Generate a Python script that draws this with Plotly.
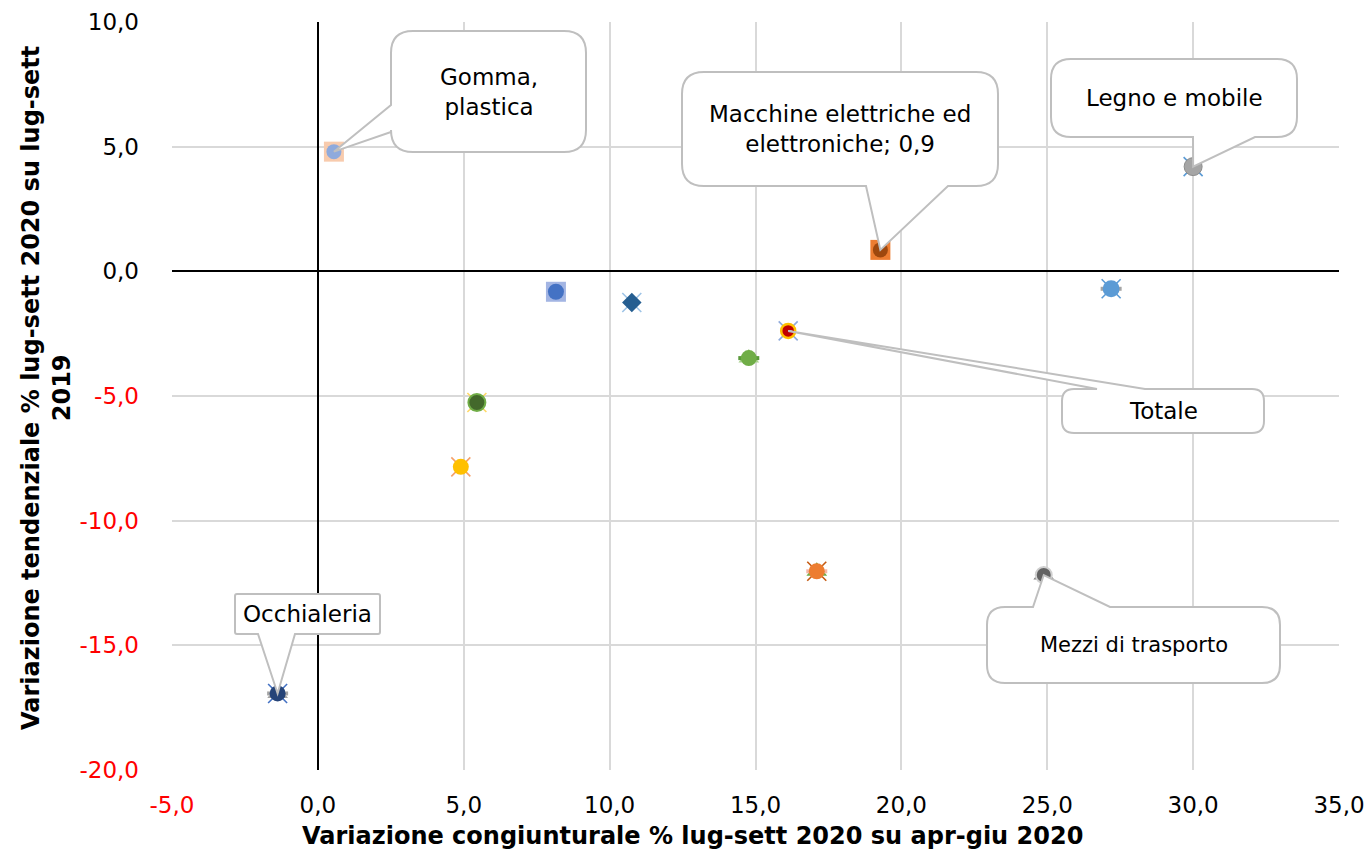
import plotly.graph_objects as go

# ---------------- data ----------------
categories = ["Gomma, plastica", "Settore B", "Settore C", "Settore D", "Settore E",
              "Settore F", "Totale", "Macchine elettriche ed elettroniche", "Settore I",
              "Legno e mobile", "Settore K", "Mezzi di trasporto", "Occhialeria"]
x_vals = [0.55, 8.16, 10.76, 5.45, 4.90, 14.77, 16.12, 19.28, 27.19, 30.0, 17.10, 24.88, -1.38]
y_vals = [4.80, -0.82, -1.25, -5.26, -7.84, -3.48, -2.39, 0.86, -0.70, 4.20, -12.03, -12.18, -16.93]

x_ticks = [-5, 0, 5, 10, 15, 20, 25, 30, 35]
x_tick_labels = ["-5,0", "0,0", "5,0", "10,0", "15,0", "20,0", "25,0", "30,0", "35,0"]
y_ticks = [-20, -15, -10, -5, 0, 5, 10]
y_tick_labels = ["-20,0", "-15,0", "-10,0", "-5,0", "0,0", "5,0", "10,0"]

x_title = "Variazione congiunturale % lug-sett 2020 su apr-giu 2020"
y_title = "Variazione tendenziale % lug-sett 2020 su lug-sett<br>2019"

# callouts: (index of point, text, font size)
callouts = [
    (0, "Gomma,<br>plastica", 23),
    (7, "Macchine elettriche ed<br>elettroniche; 0,9", 23),
    (9, "Legno e mobile", 23),
    (6, "Totale", 23),
    (11, "Mezzi di trasporto", 21),
    (12, "Occhialeria", 23),
]

# ---------------- styles ----------------
W, H = 1367, 853
PL, PR, PT, PB = 172, 1339, 22, 770
XMIN, XMAX, YMIN, YMAX = -5, 35, -20, 10
FONT = "DejaVu Sans"

def to_px(xd, yd):
    return (PL + (xd - XMIN) * (PR - PL) / (XMAX - XMIN),
            PT + (YMAX - yd) * (PB - PT) / (YMAX - YMIN))

def to_data(px, py):
    return (XMIN + (px - PL) * (XMAX - XMIN) / (PR - PL),
            YMAX - (py - PT) * (YMAX - YMIN) / (PB - PT))

# marker layers (bottom to top); None = not present for that point
sq_col = ["#f8cbad", "#a3b5e3", None, None, None, None, None, "#ed7d31", None, None, "#f8cbad", None, None]
sq_size = [20, 20, 0, 0, 0, 0, 0, 20, 0, 0, 12, 0, 0]
x_col = [None, None, "#9dc3e6", "#ffd966", "#f4a06a", None, "#8faadc", None, "#5b9bd5", "#5b9bd5", "#c55a11", None, "#4472c4"]
tri_col = [None, None, None, None, None, "#a9d18e", None, None, None, None, "#70ad47", "#7f7f7f", "#a5a5a5"]
bar_col = [None, None, None, None, None, "#5a9a3a", None, None, "#a5a5a5", None, "#f4b6a6", None, "#a5a5a5"]
top_sym = ["circle", "circle", "diamond", "circle", "circle", "circle", "circle", "circle", "circle", "circle", "circle", "circle", "circle"]
top_col = ["#8faadc", "#4472c4", "#255e91", "#43682b", "#ffc000", "#70ad47", "#c00000", "#9e480e", "#5b9bd5", "#a5a5a5", "#ed7d31", "#636363", "#264478"]
top_size = [15, 16, 15, 17, 16, 16, 14, 15, 17, 18, 16, 16, 16]
top_line = ["#8faadc", "#4472c4", "#255e91", "#70ad47", "#ffc000", "#70ad47", "#ffc000", "#9e480e", "#5b9bd5", "#8c8c8c", "#ed7d31", "#d0d0d0", "#264478"]
top_lw = [0, 0, 0, 2, 0, 0, 2.5, 0, 0, 1, 0, 2, 0]

fig = go.Figure()

def add_layer(cols, symbol, sizes, lw):
    idx = [i for i, c in enumerate(cols) if c is not None]
    if not idx:
        return
    fig.add_trace(go.Scatter(
        x=[x_vals[i] for i in idx], y=[y_vals[i] for i in idx],
        mode="markers", hoverinfo="skip", showlegend=False,
        marker=dict(symbol=symbol, color=[cols[i] for i in idx], opacity=1,
                    size=[sizes[i] if isinstance(sizes, list) else sizes for i in idx],
                    line=dict(width=lw, color=[cols[i] for i in idx]))))

add_layer(sq_col, "square", sq_size, 0)
add_layer(x_col, "x-thin-open", 19, 1.6)
add_layer(tri_col, "triangle-up", 18, 0)
add_layer(bar_col, "line-ew-open", 15, 4)

fig.add_trace(go.Scatter(
    x=x_vals, y=y_vals, mode="markers", text=categories,
    hovertemplate="%{text}<br>%{x:.1f}; %{y:.1f}<extra></extra>", showlegend=False,
    marker=dict(symbol=top_sym, color=top_col, size=top_size, opacity=1,
                line=dict(width=top_lw, color=top_line))))

# ---------------- callout bubbles ----------------
# geometry in pixels: box (L, T, R, B), corner radius, side of tail, tail base (b1, b2)
bubble_geom = {
    0: (391, 31, 586, 152, 22, "left", 105, 132),
    7: (682, 72, 998, 186, 22, "bottom", 866, 948),
    9: (1051, 59, 1297, 137, 20, "bottom", 1193, 1255),
    6: (1062, 389, 1264, 433, 12, "top", 1097, 1145),
    11: (987, 607, 1280, 683, 18, "top", 1033, 1110),
    12: (235, 594, 380, 634, 2, "bottom", 258, 295),
}

def pt(px, py):
    xd, yd = to_data(px, py)
    return f"{xd:.5f},{yd:.5f}"

shapes = []
annotations = []
for idx, text, fs in callouts:
    L, T, R, B, r, side, b1, b2 = bubble_geom[idx]
    tx, ty = to_px(x_vals[idx], y_vals[idx])
    p = f"M {pt(L + r, T)}"
    if side == "top":
        p += f" L {pt(b1, T)} L {pt(tx, ty)} L {pt(b2, T)}"
    p += f" L {pt(R - r, T)} Q {pt(R, T)} {pt(R, T + r)}"
    p += f" L {pt(R, B - r)} Q {pt(R, B)} {pt(R - r, B)}"
    if side == "bottom":
        p += f" L {pt(b2, B)} L {pt(tx, ty)} L {pt(b1, B)}"
    p += f" L {pt(L + r, B)} Q {pt(L, B)} {pt(L, B - r)}"
    if side == "left":
        p += f" L {pt(L, b2)} L {pt(tx, ty)} L {pt(L, b1)}"
    p += f" L {pt(L, T + r)} Q {pt(L, T)} {pt(L + r, T)} Z"
    shapes.append(dict(type="path", path=p, xref="x", yref="y", layer="above",
                       fillcolor="white", line=dict(color="#bfbfbf", width=2)))
    cx, cy = to_data((L + R) / 2, (T + B) / 2)
    annotations.append(dict(x=cx, y=cy, xref="x", yref="y", text=text, showarrow=False,
                            font=dict(family=FONT, size=fs, color="black"),
                            xanchor="center", yanchor="middle"))

# axis titles
annotations.append(dict(x=(692 - PL) / (PR - PL), y=(PB - 836) / (PB - PT), xref="paper", yref="paper",
                        text=f"<b>{x_title}</b>", showarrow=False, xanchor="center", yanchor="middle",
                        font=dict(family=FONT, size=24, color="black")))
annotations.append(dict(x=(47 - PL) / (PR - PL), y=(PB - 388) / (PB - PT), xref="paper", yref="paper",
                        text=f"<b>{y_title}</b>", showarrow=False, textangle=-90,
                        xanchor="center", yanchor="middle",
                        font=dict(family=FONT, size=24, color="black")))

def colored(labels, vals):
    return [f'<span style="color:#ff0000">{t}</span>' if v < 0 else t for t, v in zip(labels, vals)]

axis_common = dict(showgrid=True, gridcolor="#d9d9d9", gridwidth=2,
                   zeroline=True, zerolinecolor="black", zerolinewidth=1.8,
                   showline=False, ticks="", fixedrange=True,
                   tickfont=dict(family=FONT, size=23, color="black"))

fig.update_layout(
    width=W, height=H,
    margin=dict(l=PL, r=W - PR, t=PT, b=H - PB, autoexpand=False),
    paper_bgcolor="white", plot_bgcolor="white",
    font=dict(family=FONT, color="black"),
    xaxis=dict(range=[XMIN, XMAX], tickvals=x_ticks, ticktext=colored(x_tick_labels, x_ticks),
               ticklabelstandoff=19, **axis_common),
    yaxis=dict(range=[YMIN, YMAX], tickvals=y_ticks, ticktext=colored(y_tick_labels, y_ticks),
               ticklabelstandoff=32, **axis_common),
    shapes=shapes, annotations=annotations,
)

fig.write_html("out.html", config={"displayModeBar": False},
               post_script="document.body.style.margin='0px';document.body.style.overflow='hidden';")
